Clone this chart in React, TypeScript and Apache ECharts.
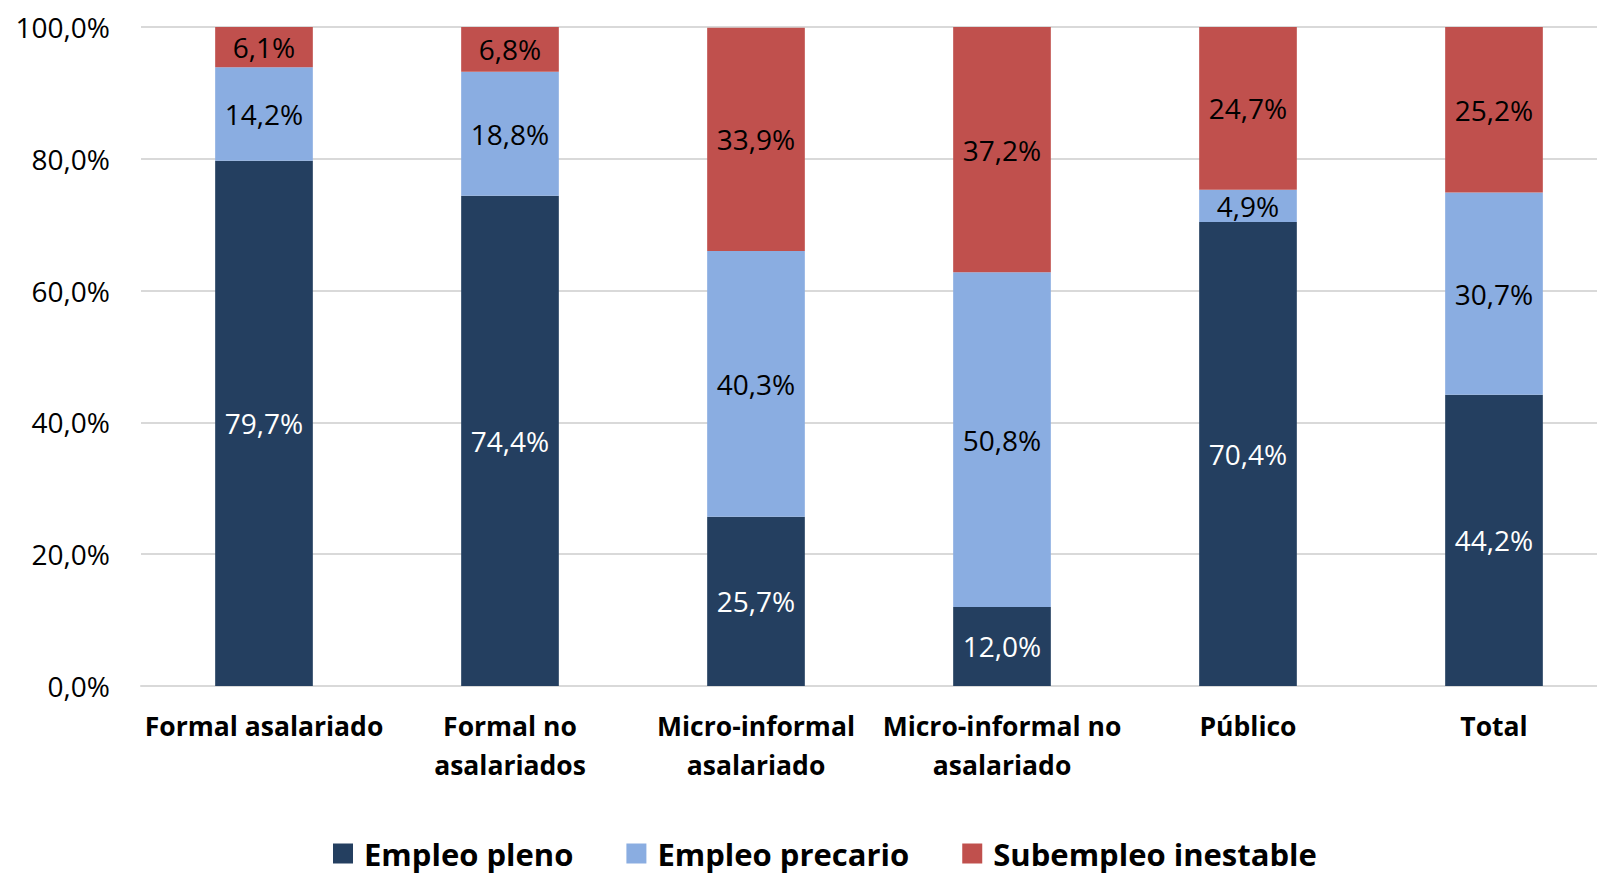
import React, { useEffect, useRef } from "react";
import * as echarts from "echarts";

const categories = [
  "Formal asalariado",
  "Formal no\nasalariados",
  "Micro-informal\nasalariado",
  "Micro-informal no\nasalariado",
  "Público",
  "Total",
];
const empleoPleno = [79.7, 74.4, 25.7, 12.0, 70.4, 44.2];
const empleoPrecario = [14.2, 18.8, 40.3, 50.8, 4.9, 30.7];
const subempleoInestable = [6.1, 6.8, 33.9, 37.2, 24.7, 25.2];
const seriesNames = ["Empleo pleno", "Empleo precario", "Subempleo inestable"];

const FONT = "'Open Sans', sans-serif";
const fmt = (v: number) => v.toFixed(1).replace(".", ",") + "%";

export default function App() {
  const ref = useRef<HTMLDivElement>(null);
  useEffect(() => {
    document.body.style.margin = "0";
    const chart = echarts.init(ref.current!, undefined, { renderer: "svg" });
    const mk = (name: string, data: number[], color: string, labelColor: string) => ({
      name,
      type: "bar",
      stack: "s",
      data,
      barWidth: "39.7%",
      itemStyle: { color },
      label: {
        show: true,
        position: "inside",
        color: labelColor,
        fontFamily: FONT,
        fontSize: 28,
        formatter: (p: any) => fmt(p.value),
      },
    });
    chart.setOption({
      animation: false,
      textStyle: { fontFamily: FONT },
      grid: { left: 141, right: 0, top: 27, bottom: 188, containLabel: false },
      legend: {
        bottom: 0,
        left: 328,
        itemWidth: 20,
        itemHeight: 20,
        itemGap: 53,
        icon: "rect",
        textStyle: { fontFamily: FONT, fontSize: 31, fontWeight: "bold", color: "#000", padding: [0, 0, 0, 6] },
        data: seriesNames,
      },
      xAxis: {
        type: "category",
        data: categories,
        axisLine: { lineStyle: { color: "#d9d9d9", width: 2 } },
        axisTick: { show: false },
        axisLabel: {
          fontFamily: FONT,
          fontSize: 26.5,
          fontWeight: "bold",
          color: "#000",
          lineHeight: 39,
          margin: 20,
          interval: 0,
        },
      },
      yAxis: {
        type: "value",
        min: 0,
        max: 100,
        interval: 20,
        axisLine: { show: false },
        axisTick: { show: false },
        splitLine: { lineStyle: { color: "#d9d9d9", width: 2 } },
        axisLabel: {
          fontFamily: FONT,
          fontSize: 28,
          color: "#000",
          margin: 31,
          formatter: (v: number) => fmt(v),
        },
      },
      series: [
        mk(seriesNames[0], empleoPleno, "#243F60", "#fff"),
        mk(seriesNames[1], empleoPrecario, "#8AADE1", "#000"),
        mk(seriesNames[2], subempleoInestable, "#C0504D", "#000"),
      ],
    });
    return () => chart.dispose();
  }, []);
  return (
    <div style={{ width: 1597, height: 874, overflow: "hidden" }}>
      <div ref={ref} style={{ width: 1617, height: 874 }} />
    </div>
  );
}
